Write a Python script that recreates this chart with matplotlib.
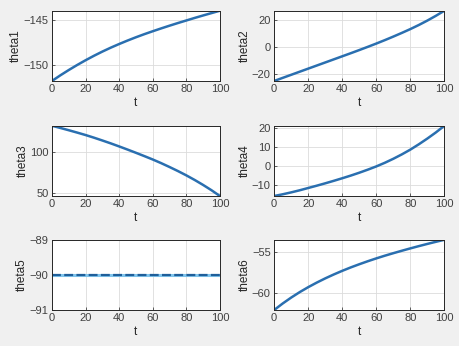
import numpy as np
import matplotlib.pyplot as plt
from matplotlib.ticker import MultipleLocator

t = [0, 5, 10, 15, 20, 25, 30, 35, 40, 45, 50, 55, 60, 65, 70, 75, 80, 85, 90, 95, 100]
theta1 = [-151.7, -151.08, -150.50, -149.95, -149.43, -148.94, -148.48, -148.05, -147.65, -147.27, -146.91,
          -146.57, -146.25, -145.94, -145.64, -145.35, -145.07, -144.79, -144.52, -144.26, -144.00]
theta2 = [-25.3, -23.0, -20.7, -18.4, -16.1, -13.8, -11.5, -9.2, -6.9, -4.6, -2.25,
          0.15, 2.6, 5.15, 7.8, 10.55, 13.4, 16.45, 19.75, 23.3, 27.1]
theta3 = [131.5, 128.85, 126.1, 123.25, 120.3, 117.1, 113.7, 110.2, 106.5, 102.7, 98.8,
          94.8, 90.7, 86.3, 81.6, 76.7, 71.5, 65.9, 59.9, 53.5, 46.5]
theta4 = [-15.8, -14.9, -13.9, -12.8, -11.6, -10.4, -9.15, -7.85, -6.5, -5.1, -3.6,
          -2.0, -0.3, 1.6, 3.7, 6.0, 8.5, 11.3, 14.3, 17.5, 21.0]
theta5 = [-90] * 21
theta6 = [-62.1, -61.30, -60.57, -59.90, -59.29, -58.73, -58.21, -57.73, -57.28, -56.86, -56.47,
          -56.10, -55.75, -55.42, -55.11, -54.81, -54.52, -54.24, -53.97, -53.71, -53.46]

series = [theta1, theta2, theta3, theta4, theta5, theta6]
names = ['theta1', 'theta2', 'theta3', 'theta4', 'theta5', 'theta6']
ysteps = [5, 20, 50, 10, 1, 5]

plt.rcParams['font.family'] = ['Liberation Sans', 'DejaVu Sans']
fig = plt.figure(figsize=(4.6, 3.46), dpi=100)
fig.patch.set_facecolor('#f0f0f0')

lefts = [0.113, 0.596]
widths = [0.365, 0.37]
bottoms = [0.766, 0.4335, 0.104]
height = 0.203

for i, (y, name, step) in enumerate(zip(series, names, ysteps)):
    row, col = i // 2, i % 2
    ax = fig.add_axes([lefts[col], bottoms[row], widths[col], height])
    ax.set_facecolor('white')
    if name == 'theta5':
        ax.plot(t, y, color='#7fc4ec', lw=2.2)
        ax.plot(t, y, color='#1f5f9a', lw=1.6, ls=(0, (4, 1.5)))
        ax.set_ylim(-91, -89)
    else:
        ax.plot(t, y, color='#2a6fb0', lw=1.8)
        ax.set_ylim(min(y), max(y))
    ax.set_xlim(0, 100)
    ax.xaxis.set_major_locator(MultipleLocator(20))
    ax.yaxis.set_major_locator(MultipleLocator(step))
    ax.grid(True, color='#dcdcdc', lw=0.6)
    ax.set_axisbelow(True)
    ax.tick_params(direction='in', length=2, width=0.5, labelsize=8,
                   colors='#262626', labelcolor='#404040', pad=2.5)
    for s in ax.spines.values():
        s.set_color('#262626')
        s.set_linewidth(0.7)
    ax.set_xlabel('t', fontsize=8.5, color='#262626', labelpad=1.5)
    ax.set_ylabel(name, fontsize=8.5, color='#262626', labelpad=1)

fig.savefig('out.png', dpi=100, facecolor=fig.get_facecolor())
